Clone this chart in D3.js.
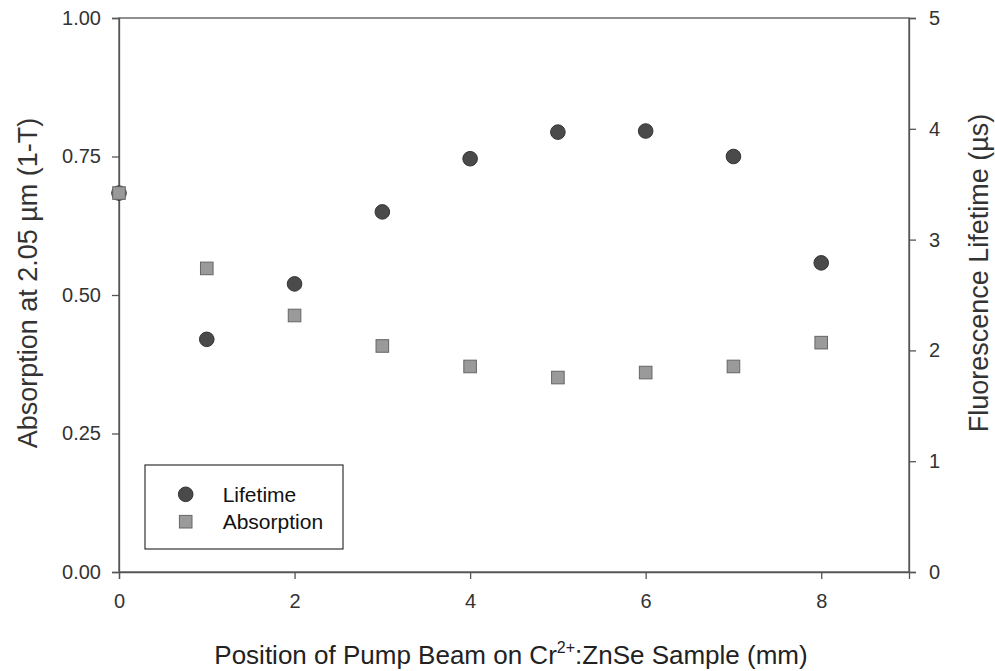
<!DOCTYPE html>
<html>
<head>
<meta charset="utf-8">
<script src="https://cdn.jsdelivr.net/npm/d3@7"></script>
<style>
  html, body { margin: 0; padding: 0; background: #fff; }
  svg { display: block; font-family: "Liberation Sans", Arial, sans-serif; }
</style>
</head>
<body>
<svg id="chart" width="995" height="671"></svg>
<script>
// ---- Data ----
const positions = [0, 1, 2, 3, 4, 5, 6, 7, 8];
const lifetime = [3.42, 2.10, 2.60, 3.25, 3.73, 3.97, 3.98, 3.75, 2.79];
const absorption = [0.684, 0.548, 0.463, 0.408, 0.371, 0.351, 0.360, 0.371, 0.414];
const xTicks = [0, 2, 4, 6, 8];
const leftTicks = [0, 0.25, 0.5, 0.75, 1.0];
const rightTicks = [0, 1, 2, 3, 4, 5];
const seriesNames = ["Lifetime", "Absorption"];

// ---- Layout ----
const svg = d3.select("#chart");
const m = { left: 119, right: 909, top: 18, bottom: 572 };

const x = d3.scaleLinear().domain([0, 9]).range([m.left, m.right]);
const yL = d3.scaleLinear().domain([0, 1]).range([m.bottom, m.top]);
const yR = d3.scaleLinear().domain([0, 5]).range([m.bottom, m.top]);

const axisColor = "#555";
const textColor = "#333";
const tickFont = 20;

// frame
svg.append("rect")
  .attr("x", m.left).attr("y", m.top)
  .attr("width", m.right - m.left).attr("height", m.bottom - m.top)
  .attr("fill", "none").attr("stroke", axisColor).attr("stroke-width", 1.3);

function styleAxis(g) {
  g.select(".domain").attr("stroke", axisColor).attr("stroke-width", 1.3);
  g.selectAll(".tick line").attr("stroke", axisColor).attr("stroke-width", 1.3);
  g.selectAll(".tick text").attr("fill", textColor)
    .style("font-size", tickFont + "px")
    .style("font-family", '"Liberation Sans", Arial, sans-serif');
}

// x axis
svg.append("g")
  .attr("transform", `translate(0,${m.bottom})`)
  .call(d3.axisBottom(x).tickValues(xTicks).tickSize(7).tickPadding(15).tickFormat(d3.format("d")))
  .call(styleAxis);

// left axis
svg.append("g")
  .attr("transform", `translate(${m.left},0)`)
  .call(d3.axisLeft(yL).tickValues(leftTicks).tickSize(7).tickPadding(11).tickFormat(d3.format(".2f")))
  .call(styleAxis);

// right axis
svg.append("g")
  .attr("transform", `translate(${m.right},0)`)
  .call(d3.axisRight(yR).tickValues(rightTicks).tickSize(7).tickPadding(13).tickFormat(d3.format("d")))
  .call(styleAxis);

// axis titles
const titleFont = 26;
svg.append("text")
  .attr("transform", `translate(28,283) rotate(-90)`)
  .attr("text-anchor", "middle").attr("dominant-baseline", "central")
  .attr("fill", textColor).style("font-size", "27px")
  .text("Absorption at 2.05 \u00B5m (1-T)");

svg.append("text")
  .attr("transform", `translate(979,273) rotate(-90)`)
  .attr("text-anchor", "middle").attr("dominant-baseline", "central")
  .attr("fill", textColor).style("font-size", "27px")
  .text("Fluorescence Lifetime (\u00B5s)");

const xt = svg.append("text")
  .attr("x", (m.left + m.right) / 2 - 3).attr("y", 664)
  .attr("text-anchor", "middle")
  .attr("fill", "#222").style("font-size", titleFont + "px");
xt.append("tspan").text("Position of Pump Beam on Cr");
xt.append("tspan").attr("dy", -11).style("font-size", "16px").text("2+");
xt.append("tspan").attr("dy", 11).text(":ZnSe Sample (mm)");

// ---- marks ----
const circR = 7.3;
const sq = 12.6;
const circFill = "#4a4a4a", circStroke = "#333";
const sqFill = "#9a9a9a", sqStroke = "#666";

const pts = positions.map((p, i) => ({ p, lt: lifetime[i], ab: absorption[i] }));

svg.append("g").selectAll("circle").data(pts).join("circle")
  .attr("cx", d => x(d.p)).attr("cy", d => yR(d.lt)).attr("r", circR)
  .attr("fill", circFill).attr("stroke", circStroke).attr("stroke-width", 1);

svg.append("g").selectAll("rect").data(pts).join("rect")
  .attr("x", d => x(d.p) - sq / 2).attr("y", d => yL(d.ab) - sq / 2)
  .attr("width", sq).attr("height", sq)
  .attr("fill", sqFill).attr("stroke", sqStroke).attr("stroke-width", 1);

// ---- legend ----
const lg = svg.append("g");
lg.append("rect").attr("x", 145).attr("y", 465).attr("width", 198).attr("height", 84)
  .attr("fill", "#fff").attr("stroke", "#333").attr("stroke-width", 1.2);
lg.append("circle").attr("cx", 185.7).attr("cy", 494.3).attr("r", circR)
  .attr("fill", circFill).attr("stroke", circStroke);
lg.append("rect").attr("x", 185.7 - sq / 2).attr("y", 521.7 - sq / 2).attr("width", sq).attr("height", sq)
  .attr("fill", sqFill).attr("stroke", sqStroke);
lg.append("text").attr("x", 222.7).attr("y", 501.7).attr("fill", "#111")
  .style("font-size", "21px").text(seriesNames[0]);
lg.append("text").attr("x", 222.7).attr("y", 529.3).attr("fill", "#111")
  .style("font-size", "21px").text(seriesNames[1]);
</script>
</body>
</html>
